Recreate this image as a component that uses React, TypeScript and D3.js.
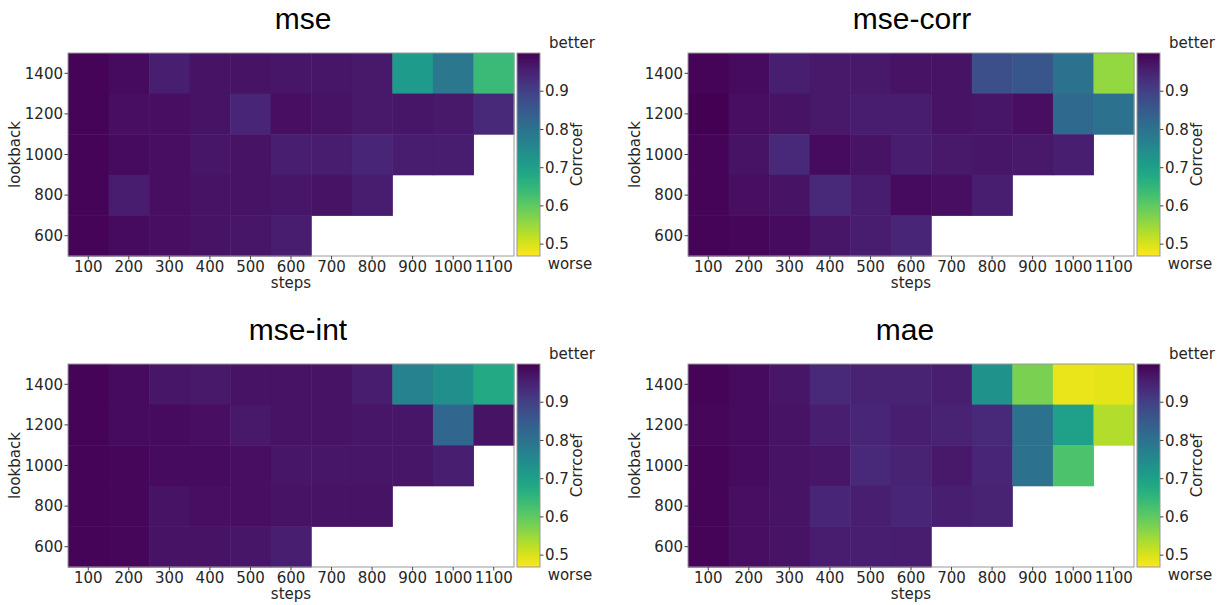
import React from "react";
import * as d3 from "d3";

const steps = [100, 200, 300, 400, 500, 600, 700, 800, 900, 1000, 1100];
const lookbacks = [1400, 1200, 1000, 800, 600];
const cbarTicks = [0.5, 0.6, 0.7, 0.8, 0.9];
const cbarDomain = [0.469, 1.0];

// rows: lookback 1400, 1200, 1000, 800, 600 ; columns: steps 100..1100 (null = no data)
const mseValues: (number | null)[][] = [
  [0.995, 0.985, 0.955, 0.975, 0.975, 0.97, 0.97, 0.965, 0.71, 0.79, 0.64],
  [0.995, 0.98, 0.98, 0.975, 0.945, 0.98, 0.975, 0.965, 0.97, 0.965, 0.94],
  [0.995, 0.985, 0.98, 0.97, 0.975, 0.955, 0.96, 0.945, 0.96, 0.96, null],
  [0.995, 0.96, 0.98, 0.975, 0.975, 0.97, 0.975, 0.96, null, null, null],
  [0.995, 0.985, 0.98, 0.975, 0.97, 0.96, null, null, null, null, null],
];
const mseCorrValues: (number | null)[][] = [
  [0.995, 0.985, 0.955, 0.965, 0.965, 0.975, 0.975, 0.873, 0.857, 0.8, 0.555],
  [1.0, 0.98, 0.975, 0.965, 0.96, 0.96, 0.975, 0.97, 0.98, 0.82, 0.8],
  [0.995, 0.975, 0.94, 0.985, 0.975, 0.96, 0.965, 0.97, 0.965, 0.955, null],
  [0.995, 0.98, 0.975, 0.94, 0.96, 0.985, 0.98, 0.955, null, null, null],
  [0.995, 0.99, 0.985, 0.97, 0.96, 0.945, null, null, null, null, null],
];
const mseIntValues: (number | null)[][] = [
  [0.995, 0.985, 0.97, 0.965, 0.975, 0.975, 0.975, 0.96, 0.767, 0.735, 0.68],
  [0.995, 0.985, 0.985, 0.98, 0.965, 0.975, 0.975, 0.97, 0.97, 0.825, 0.975],
  [0.995, 0.99, 0.985, 0.985, 0.98, 0.97, 0.97, 0.97, 0.97, 0.955, null],
  [0.995, 0.99, 0.975, 0.98, 0.98, 0.975, 0.975, 0.975, null, null, null],
  [0.995, 0.99, 0.975, 0.975, 0.97, 0.955, null, null, null, null, null],
];
const maeValues: (number | null)[][] = [
  [0.995, 0.985, 0.97, 0.94, 0.95, 0.95, 0.955, 0.73, 0.576, 0.486, 0.49],
  [0.99, 0.985, 0.975, 0.955, 0.945, 0.955, 0.95, 0.94, 0.8, 0.7, 0.53],
  [0.995, 0.985, 0.975, 0.97, 0.94, 0.95, 0.965, 0.945, 0.8, 0.62, null],
  [0.995, 0.98, 0.975, 0.945, 0.955, 0.945, 0.955, 0.95, null, null, null],
  [0.995, 0.98, 0.975, 0.96, 0.955, 0.96, null, null, null, null, null],
];
const panelTitles = ["mse", "mse-corr", "mse-int", "mae"];

const panels = [
  { title: panelTitles[0], data: mseValues, ox: 68, oy: 53, tx: 303 },
  { title: panelTitles[1], data: mseCorrValues, ox: 688, oy: 53, tx: 912 },
  { title: panelTitles[2], data: mseIntValues, ox: 68, oy: 364, tx: 298 },
  { title: panelTitles[3], data: maeValues, ox: 688, oy: 364, tx: 905 },
];

const PW = 446;
const PH = 203;
const TICK_FONT = "'DejaVu Sans', sans-serif";
const TXT = "#262626";

const color = d3
  .scaleSequential((t: number) => d3.interpolateViridis(1 - t))
  .domain(cbarDomain as [number, number]);

function Panel({ p, idx }: { p: (typeof panels)[number]; idx: number }) {
  const x = d3.scaleBand<number>().domain(steps).range([0, PW]);
  const y = d3.scaleBand<number>().domain(lookbacks).range([0, PH]);
  const cy = d3.scaleLinear().domain(cbarDomain).range([PH, 0]);
  const cbx = PW + 3;
  const cbw = 23;
  const gradId = `vgrad${idx}`;
  const stops = d3.range(0, 1.0001, 0.05);
  return (
    <g transform={`translate(${p.ox},${p.oy})`}>
      <text
        x={p.tx - p.ox}
        y={-24}
        textAnchor="middle"
        fontFamily="'Liberation Sans', Arial, sans-serif"
        fontSize={30}
        fill="#000"
      >
        {p.title}
      </text>
      {p.data.map((row, ri) =>
        row.map((v, ci) =>
          v == null ? null : (
            <rect
              key={`${ri}-${ci}`}
              x={x(steps[ci])}
              y={y(lookbacks[ri])}
              width={x.bandwidth() + 0.5}
              height={y.bandwidth() + 0.5}
              fill={color(v)}
            />
          )
        )
      )}
      <rect x={0} y={0} width={PW} height={PH} fill="none" stroke="#999" strokeWidth={1} />
      {steps.map((s) => (
        <g key={s} transform={`translate(${(x(s) as number) + x.bandwidth() / 2},${PH})`}>
          <line y1={0} y2={3.5} stroke="#444" />
          <text y={15.5} textAnchor="middle" fontFamily={TICK_FONT} fontSize={15} fill={TXT}>
            {s}
          </text>
        </g>
      ))}
      {lookbacks.map((l) => (
        <g key={l} transform={`translate(0,${(y(l) as number) + y.bandwidth() / 2})`}>
          <line x1={0} x2={-3.5} stroke="#444" />
          <text x={-5} dy="0.35em" textAnchor="end" fontFamily={TICK_FONT} fontSize={15} fill={TXT}>
            {l}
          </text>
        </g>
      ))}
      <text
        x={PW / 2}
        y={PH + 32}
        textAnchor="middle"
        fontFamily={TICK_FONT}
        fontSize={15}
        fill={TXT}
      >
        steps
      </text>
      <text
        transform={`translate(${-48},${PH / 2}) rotate(-90)`}
        textAnchor="middle"
        fontFamily={TICK_FONT}
        fontSize={15}
        fill={TXT}
      >
        lookback
      </text>
      <defs>
        <linearGradient id={gradId} x1="0" y1="1" x2="0" y2="0">
          {stops.map((t) => (
            <stop key={t} offset={`${t * 100}%`} stopColor={color(cbarDomain[0] + t * (cbarDomain[1] - cbarDomain[0]))} />
          ))}
        </linearGradient>
      </defs>
      <rect x={cbx} y={0} width={cbw} height={PH} fill={`url(#${gradId})`} stroke="#999" strokeWidth={1} />
      {cbarTicks.map((t) => (
        <g key={t} transform={`translate(${cbx + cbw},${cy(t)})`}>
          <line x1={0} x2={3.5} stroke="#444" />
          <text x={5} dy="0.35em" fontFamily={TICK_FONT} fontSize={15} fill={TXT}>
            {t.toFixed(1)}
          </text>
        </g>
      ))}
      <text
        transform={`translate(${cbx + cbw + 42},${PH / 2}) rotate(-90)`}
        textAnchor="middle"
        fontFamily={TICK_FONT}
        fontSize={15}
        fill={TXT}
      >
        Corrcoef
      </text>
      <text x={cbx + cbw + 32} y={-5} textAnchor="middle" fontFamily={TICK_FONT} fontSize={15} fill={TXT}>
        better
      </text>
      <text x={cbx + cbw + 30} y={PH + 13} textAnchor="middle" fontFamily={TICK_FONT} fontSize={15} fill={TXT}>
        worse
      </text>
    </g>
  );
}

export default function App() {
  return (
    <svg width={1223} height={605} style={{ position: "absolute", left: 0, top: 0, background: "#fff" }}>
      <rect width={1223} height={605} fill="#fff" />
      {panels.map((p, i) => (
        <Panel key={p.title} p={p} idx={i} />
      ))}
    </svg>
  );
}
